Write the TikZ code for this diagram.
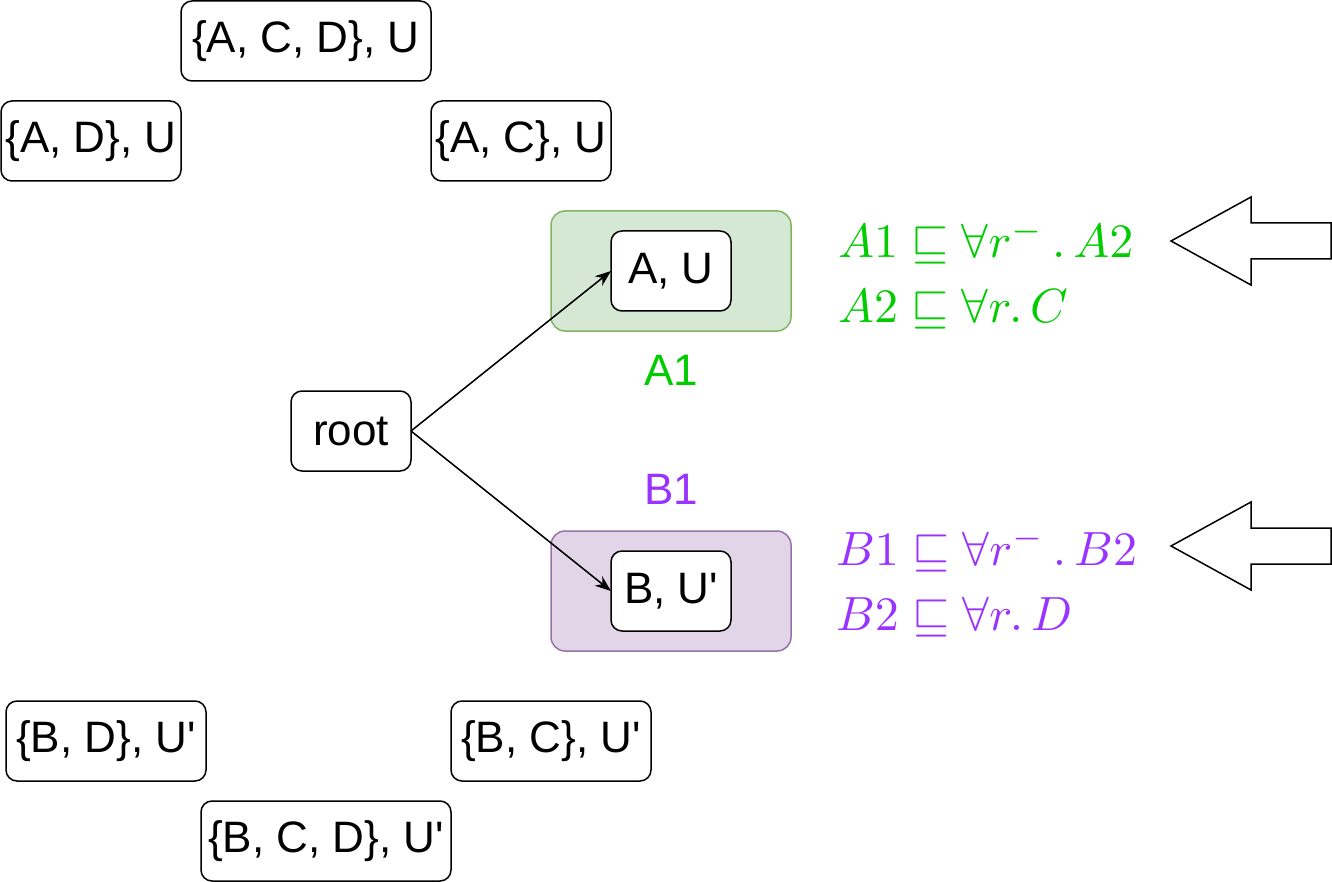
\documentclass[tikz,border=0pt]{standalone}
\usepackage{fontspec}
\newfontfamily\arialfont{Liberation Sans}
\usetikzlibrary{arrows.meta}
\definecolor{gfill}{HTML}{D5E8D4}
\definecolor{gline}{HTML}{82B366}
\definecolor{pfill}{HTML}{E1D5E7}
\definecolor{pline}{HTML}{9673A6}
\definecolor{gtext}{HTML}{00CC00}
\definecolor{ptext}{HTML}{9933FF}
\begin{document}
\begin{tikzpicture}[x=1pt,y=-1pt,
  every node/.style={inner sep=0pt,outer sep=0pt},
  box/.style={draw=black,line width=1.5pt,rounded corners=11pt,fill=white,
    font=\arialfont\fontsize{44}{52}\selectfont,align=center},
  grp/.style={line width=1.5pt,rounded corners=14pt,minimum width=240pt,minimum height=120pt},
  lbl/.style={font=\arialfont\fontsize{44}{52}\selectfont},
  mth/.style={font=\fontsize{10}{12}\selectfont,anchor=base west,scale=4.8,transform shape},
  conn/.style={line width=1.5pt,-{Stealth[length=16pt,width=12pt,inset=5pt]}},
  blockarrow/.style={draw=black,line width=1.5pt,fill=white,line join=miter}
]
\useasboundingbox (0,0) rectangle (1332,882);
% top boxes
\node[box,minimum width=250pt,minimum height=80pt] (acd) at (306,41) {\{A, C, D\}, U};
\node[box,minimum width=180pt,minimum height=80pt] (ad) at (91,141) {\{A, D\}, U};
\node[box,minimum width=180pt,minimum height=80pt] (ac) at (521,141) {\{A, C\}, U};
% groups
\node[grp,draw=gline,fill=gfill] (ga) at (671,271) {};
\node[grp,draw=pline,fill=pfill] (gb) at (671,591) {};
\node[box,minimum width=120pt,minimum height=80pt] (au) at (671,271) {A, U};
\node[box,minimum width=120pt,minimum height=80pt] (bu) at (671,591) {B, U'};
\node[lbl,text=gtext] (la) at (671,370) {A1};
\node[lbl,text=ptext] (lb) at (671,489) {B1};
% root
\node[box,minimum width=120pt,minimum height=80pt] (root) at (351,431) {root};
% bottom boxes
\node[box,minimum width=200pt,minimum height=80pt] (bd) at (106,741) {\{B, D\}, U'};
\node[box,minimum width=200pt,minimum height=80pt] (bc) at (551,741) {\{B, C\}, U'};
\node[box,minimum width=250pt,minimum height=80pt] (bcd) at (326,841) {\{B, C, D\}, U'};
% edges
\draw[conn] (root.east) -- (au.west);
\draw[conn] (root.east) -- (bu.west);
% math
\node[mth,text=gtext] (m1) at (838,258) {$A1 \sqsubseteq \forall r^{-}\,.\,A2$};
\node[mth,text=gtext] (m2) at (838,323) {$A2 \sqsubseteq \forall r.\,C$};
\node[mth,text=ptext] (m3) at (836,565) {$B1 \sqsubseteq \forall r^{-}\,.\,B2$};
\node[mth,text=ptext] (m4) at (836,630) {$B2 \sqsubseteq \forall r.\,D$};
% block arrows
\draw[blockarrow] (1171,241) -- (1251,197) -- (1251,223) -- (1331,223) -- (1331,259) -- (1251,259) -- (1251,285) -- cycle;
\draw[blockarrow] (1171,546) -- (1251,502) -- (1251,528) -- (1331,528) -- (1331,564) -- (1251,564) -- (1251,590) -- cycle;
\end{tikzpicture}
\end{document}
